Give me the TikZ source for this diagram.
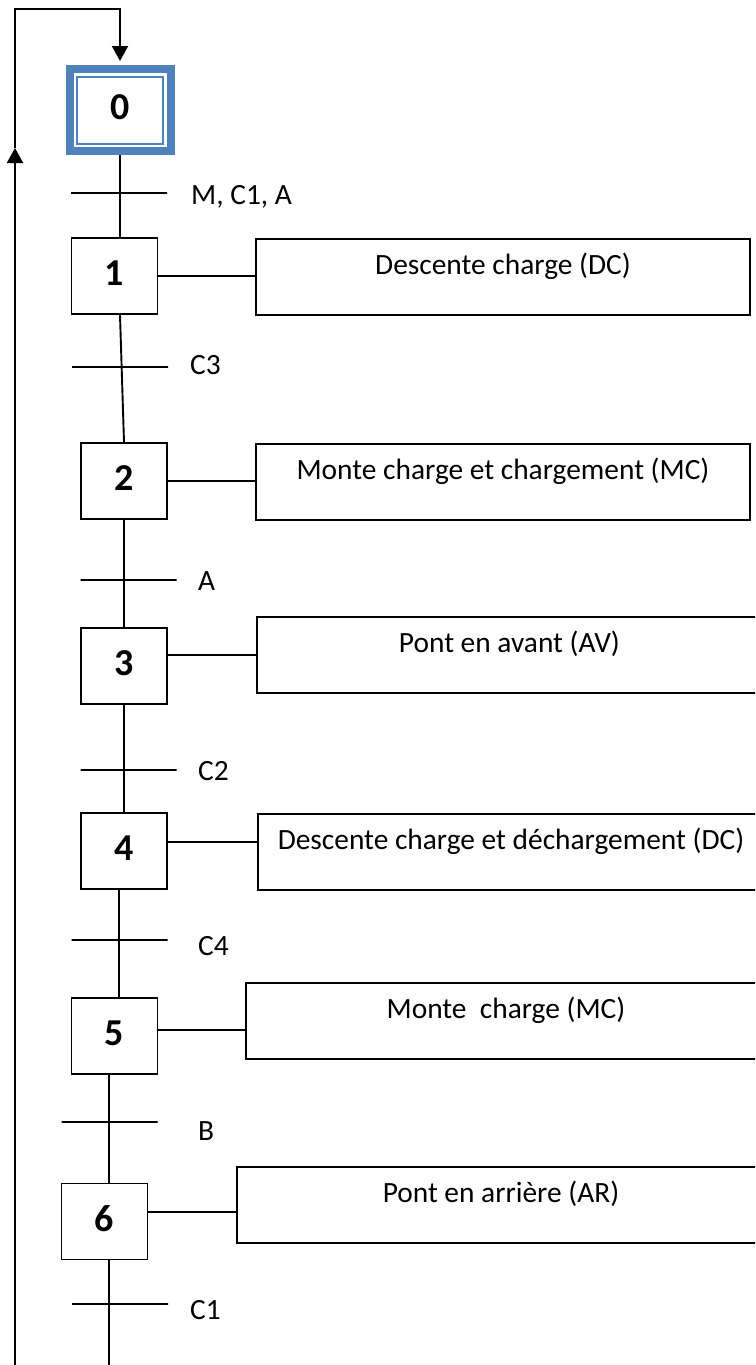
\documentclass[tikz,border=0pt]{standalone}
\usepackage{fontspec}
\setmainfont{Carlito}
\usetikzlibrary{arrows.meta}
\definecolor{bleuetape}{RGB}{79,129,189}
\newcommand{\texteaction}{\fontsize{29.4}{34}\selectfont}
\newcommand{\numetape}{\fontsize{38}{44}\selectfont\bfseries}
\begin{document}
\begin{tikzpicture}[x=1pt,y=-1pt,
trait/.style={line width=1.9pt},
fleche/.style={line width=1.9pt,-{Triangle[length=15pt,width=16pt]}},
etape/.style={draw,line width=1.9pt,minimum width=86pt,minimum height=76pt,inner sep=0pt,text depth=6pt,font=\numetape},
etapeinit/.style={draw=bleuetape,line width=8pt,minimum width=101pt,minimum height=82pt,inner sep=0pt,text depth=6pt,font=\numetape},
cadreinit/.style={draw=bleuetape,line width=2pt,minimum width=86pt,minimum height=67pt,inner sep=0pt},
action/.style={draw,line width=1.9pt,anchor=north west,minimum height=76pt,inner sep=0pt,text height=21pt,text depth=25pt,font=\texteaction},
barre/.style={draw,line width=1.9pt,minimum width=96pt,minimum height=0pt,inner sep=0pt},
recept/.style={anchor=base west,inner sep=0pt,font=\texteaction}]

\path[use as bounding box,clip] (0,0) rectangle (755,1365);

\node[etapeinit]
(s0)
at (120,110)
{0};

\node[cadreinit]
(s0i)
at (s0)
{};

\node[etape]
(s1)
at (114.5,276)
{1};

\node[etape]
(s2)
at (124,481)
{2};

\node[etape]
(s3)
at (124,666)
{3};

\node[etape]
(s4)
at (124,851)
{4};

\node[etape]
(s5)
at (114.5,1036)
{5};

\node[etape]
(s6)
at (104.5,1221.5)
{6};

\node[action,minimum width=494pt]
(a1)
at (255,238)
{Descente charge (DC)};

\node[action,minimum width=494pt]
(a2)
at (255,443)
{Monte charge et chargement (MC)};

\node[action,minimum width=505pt]
(a3)
at (256,616)
{Pont en avant (AV)};

\node[action,minimum width=506pt]
(a4)
at (257,813)
{Descente charge et déchargement (DC)};

\node[action,minimum width=520pt]
(a5)
at (245,982)
{Monte\ \ charge (MC)};

\node[action,minimum width=528pt]
(a6)
at (236,1166)
{Pont en arrière (AR)};

\node[barre]
(t0)
at (119,193)
{};

\node[barre]
(t1)
at (120,367)
{};

\node[barre]
(t2)
at (128.5,580)
{};

\node[barre]
(t3)
at (128.5,770)
{};

\node[barre]
(t4)
at (119.5,940)
{};

\node[barre]
(t5)
at (109.5,1122)
{};

\node[barre]
(t6)
at (120,1304)
{};

\node[recept]
(c0)
at (191,204)
{M, C1, A};

\node[recept]
(c1)
at (190,374)
{C3};

\node[recept]
(c2)
at (198,590.5)
{A};

\node[recept]
(c3)
at (198,780.5)
{C2};

\node[recept]
(c4)
at (198,955.5)
{C4};

\node[recept]
(c5)
at (198,1140)
{B};

\node[recept]
(c6)
at (190,1319)
{C1};

\coordinate (fin) at (109,1365);
\coordinate (r0) at (15,1365);
\coordinate (r1) at (15,148);
\coordinate (r2) at (15,9);

\draw[trait]
(s0.south)
--
(s0.south |- s1.north);

\draw[trait]
([xshift=5.5pt]s1.south)
--
(s2.north);

\draw[trait]
(s2.south)
--
(s3.north);

\draw[trait]
(s3.south)
--
(s4.north);

\draw[trait]
([xshift=-5pt]s4.south)
--
([xshift=-5pt]s4.south |- s5.north);

\draw[trait]
([xshift=-5.5pt]s5.south)
--
([xshift=-5.5pt]s5.south |- s6.north);

\draw[trait]
([xshift=4.5pt]s6.south)
--
(fin);

\draw[trait]
(s1.east)
--
(s1.east -| a1.west);

\draw[trait]
(s2.east)
--
(s2.east -| a2.west);

\draw[trait]
(s3.east |- a3.west)
--
(a3.west);

\draw[trait]
([yshift=9pt]s4.east)
--
([yshift=9pt]s4.east -| a4.west);

\draw[trait]
([yshift=6pt]s5.east)
--
([yshift=6pt]s5.east -| a5.west);

\draw[trait]
([yshift=9.5pt]s6.east)
--
([yshift=9.5pt]s6.east -| a6.west);

\draw[fleche]
(r0)
--
(r1);

\draw[fleche,shorten >=4pt]
(r1)
--
(r2)
-|
(s0.north);

\end{tikzpicture}
\end{document}
